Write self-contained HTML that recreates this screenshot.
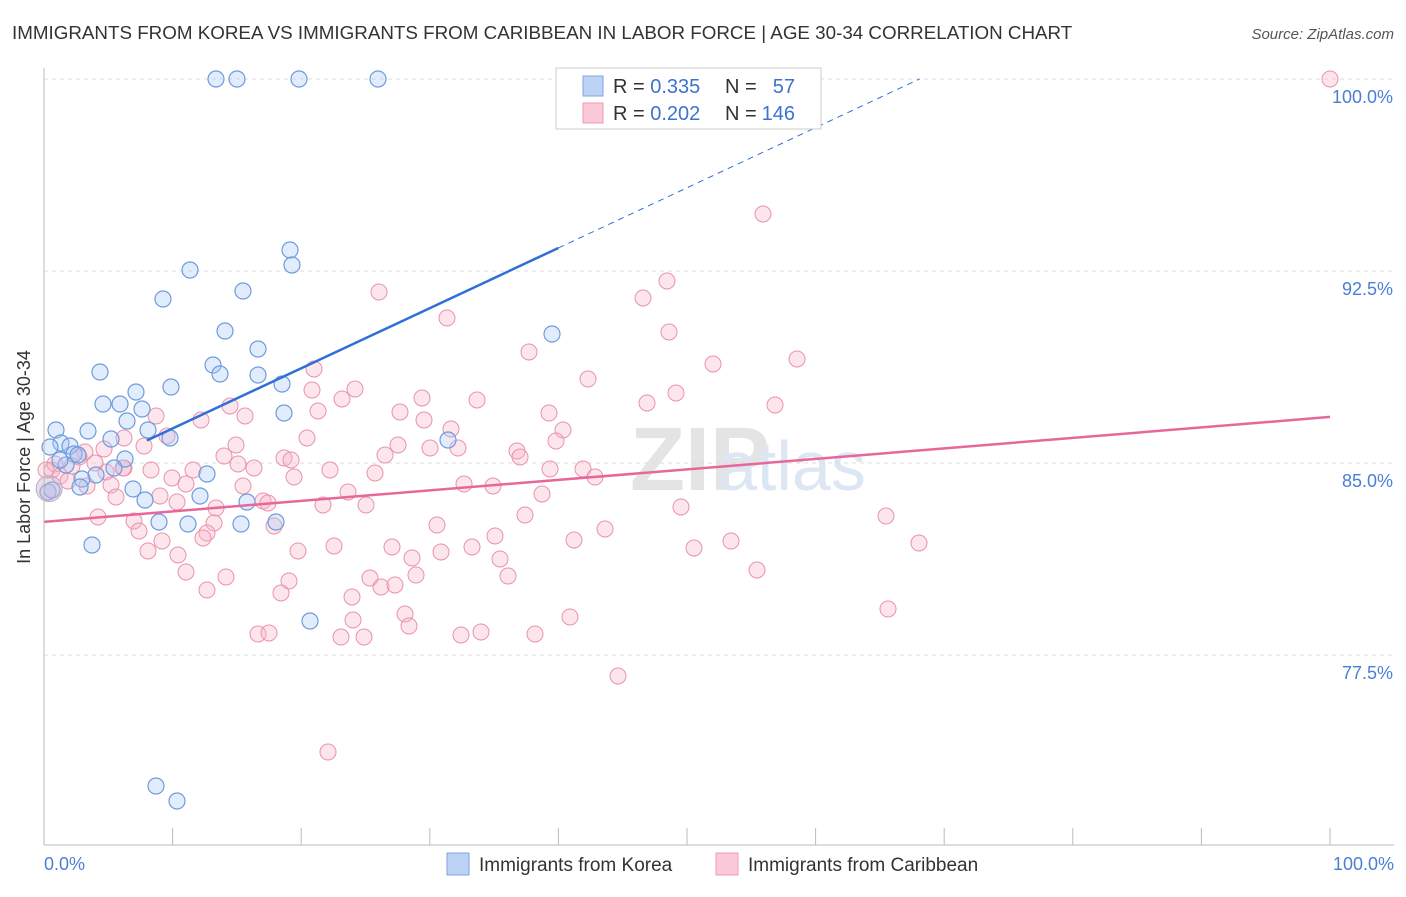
<!DOCTYPE html>
<html><head><meta charset="utf-8"><style>
body{margin:0;background:#fff;font-family:"Liberation Sans",sans-serif;}
svg text{font-family:"Liberation Sans",sans-serif;}
</style></head><body>
<svg id="chart" width="1406" height="892">
<text x="12" y="39" font-size="18.8" fill="#333">IMMIGRANTS FROM KOREA VS IMMIGRANTS FROM CARIBBEAN IN LABOR FORCE | AGE 30-34 CORRELATION CHART</text>
<text x="1394" y="39" font-size="15" fill="#555" font-style="italic" text-anchor="end">Source: ZipAtlas.com</text>
<text x="30" y="457" font-size="18" fill="#333" text-anchor="middle" transform="rotate(-90 30 457)">In Labor Force | Age 30-34</text>
<text x="630" y="490" font-size="90" fill="#e4e4e4" font-weight="bold" font-family="Liberation Serif">ZIP</text>
<text x="718" y="490" font-size="70" fill="#dde6f3">atlas</text>
<g id="grid"></g><g id="pts"></g><g id="lines"></g>
<line x1="44" y1="68" x2="44" y2="845" stroke="#bbb"/>
<line x1="44" y1="845" x2="1394" y2="845" stroke="#bbb"/>
<text x="44" y="870" font-size="18" fill="#4a7fd4">0.0%</text>
<text x="1394" y="870" font-size="18" fill="#4a7fd4" text-anchor="end">100.0%</text>
<g>
<rect x="556" y="68" width="265" height="61" fill="#fff" stroke="#ccc"/>
<rect x="583" y="76" width="20" height="20" fill="#bcd3f5" stroke="#7ea6e0"/>
<rect x="583" y="103" width="20" height="20" fill="#fbcad8" stroke="#ee9ab4"/>
<text x="613" y="93" font-size="20" fill="#333">R = <tspan fill="#3b73d0">0.335</tspan></text>
<text x="725" y="93" font-size="20" fill="#333">N =</text>
<text x="795" y="93" font-size="20" fill="#3b73d0" text-anchor="end">57</text>
<text x="613" y="120" font-size="20" fill="#333">R = <tspan fill="#3b73d0">0.202</tspan></text>
<text x="725" y="120" font-size="20" fill="#333">N =</text>
<text x="795" y="120" font-size="20" fill="#3b73d0" text-anchor="end">146</text>
</g>
<g>
<rect x="447" y="853" width="22" height="22" fill="#bcd3f5" stroke="#7ea6e0"/>
<text x="479" y="871" font-size="19" fill="#333">Immigrants from Korea</text>
<rect x="716" y="853" width="22" height="22" fill="#fbcad8" stroke="#ee9ab4"/>
<text x="748" y="871" font-size="19" fill="#333">Immigrants from Caribbean</text>
</g>
</svg>
<script>
const yTicks=[100,92.5,85,77.5];
const yTickLabels=["100.0%","92.5%","85.0%","77.5%"];
const xTicks=[0,10,20,30,40,50,60,70,80,90,100];
const koreaPx=[[216,79],[237,79],[299,79],[378,79],[290,250],[292,265],[190,270],[163,299],[243,291],[552,334],[225,331],[258,349],[213,365],[220,374],[258,375],[100,372],[171,387],[136,392],[282,384],[103,404],[120,404],[142,409],[284,413],[127,421],[148,430],[56,430],[88,431],[170,438],[111,439],[61,443],[70,446],[448,440],[50,447],[74,454],[78,455],[125,459],[114,468],[66,465],[207,474],[96,475],[82,479],[80,487],[133,489],[48,492],[145,500],[200,496],[247,502],[159,522],[188,524],[241,524],[276,522],[92,545],[310,621],[156,786],[177,801],[60,460],[52,490]];
const caribPx=[[1330,79],[763,214],[667,281],[643,298],[379,292],[447,318],[669,332],[529,352],[797,359],[713,364],[314,369],[588,379],[355,389],[422,398],[477,400],[312,390],[342,399],[676,393],[775,405],[647,403],[230,406],[549,413],[400,412],[318,411],[156,416],[245,416],[201,420],[424,420],[451,429],[563,430],[307,438],[124,438],[167,436],[144,446],[236,445],[398,445],[430,448],[458,448],[517,451],[104,449],[85,452],[224,456],[385,455],[520,457],[284,458],[79,457],[556,441],[291,460],[238,464],[254,468],[330,470],[550,469],[583,469],[375,473],[151,470],[193,470],[106,472],[124,468],[52,470],[294,477],[172,478],[595,477],[464,484],[493,486],[243,486],[111,485],[186,484],[348,492],[160,496],[542,494],[87,486],[116,497],[263,501],[177,502],[216,508],[268,503],[323,505],[366,505],[98,517],[681,507],[525,515],[886,516],[134,521],[214,523],[274,526],[437,525],[207,533],[139,531],[495,536],[605,529],[162,541],[178,555],[203,538],[298,551],[334,546],[392,547],[472,547],[574,540],[731,541],[919,543],[694,548],[148,551],[441,552],[412,558],[500,559],[416,575],[186,572],[226,577],[370,578],[508,576],[757,570],[289,581],[381,587],[395,585],[207,590],[281,593],[352,597],[405,614],[570,617],[353,620],[888,609],[258,634],[269,633],[409,626],[341,637],[364,637],[461,635],[481,632],[535,634],[618,676],[328,752],[55,464],[60,476],[68,481],[72,466],[46,470],[95,463],[123,468]];
const koreaX=koreaPx.map(p=>(p[0]-44)/12.86), koreaY=koreaPx.map(p=>100-(p[1]-79)/25.6);
const caribX=caribPx.map(p=>(p[0]-44)/12.86), caribY=caribPx.map(p=>100-(p[1]-79)/25.6);
const koreaTrend=[84.0,93.4]; // y at x=0 and x=40
const caribTrend=[82.7,86.8]; // y at x=0 and x=100
const NS="http://www.w3.org/2000/svg";
const X=v=>44+v*12.86, Y=v=>79+(100-v)*25.6;
function mk(t,a,p){const e=document.createElementNS(NS,t);for(const k in a)e.setAttribute(k,a[k]);p.appendChild(e);return e;}
const grid=document.getElementById('grid');
yTicks.forEach((t,i)=>{
 const l=mk('line',{x1:44,x2:1394,y1:Y(t),y2:Y(t),stroke:'#ddd','stroke-dasharray':'4 4'},grid);
 
 
 const tx=mk('text',{x:1393,y:Y(t)+24,'font-size':18,fill:'#4a7fd4','text-anchor':'end'},grid);
 tx.textContent=yTickLabels[i];
 
 
});
xTicks.forEach(t=>{
 const l=mk('line',{x1:X(t),x2:X(t),y1:828,y2:845,stroke:'#bbb'},grid);
 
 
});
const pts=document.getElementById('pts');
caribX.forEach((x,i)=>{
 const c=mk('circle',{cx:X(x),cy:Y(caribY[i]),r:8,fill:'rgba(248,180,200,0.35)',stroke:'#e993ad','stroke-width':1},pts);
 
 
});
koreaX.forEach((x,i)=>{
 const c=mk('circle',{cx:X(x),cy:Y(koreaY[i]),r:8,fill:'rgba(170,200,245,0.35)',stroke:'#6f9bdc','stroke-width':1.2},pts);
 
 
});
const big=mk('circle',{cx:X(0.4),cy:Y(84.0),r:13,fill:'rgba(200,180,210,0.45)',stroke:'#c9a9c9'},pts);


const lines=document.getElementById('lines');
const ks=(koreaTrend[1]-koreaTrend[0])/40;
const xs=8;
const l1=mk('line',{x1:X(xs),y1:Y(koreaTrend[0]+ks*xs),x2:X(40),y2:Y(koreaTrend[1]),stroke:'#2f6fd6','stroke-width':2.5},lines);


const xe=(100-koreaTrend[0])/ks;
const l2=mk('line',{x1:X(40),y1:Y(koreaTrend[1]),x2:X(xe),y2:Y(100),stroke:'#2f6fd6','stroke-width':1,'stroke-dasharray':'6 5'},lines);


const l3=mk('line',{x1:X(0),y1:Y(caribTrend[0]),x2:X(100),y2:Y(caribTrend[1]),stroke:'#e8679a','stroke-width':2.5},lines);


</script>
</body></html>
